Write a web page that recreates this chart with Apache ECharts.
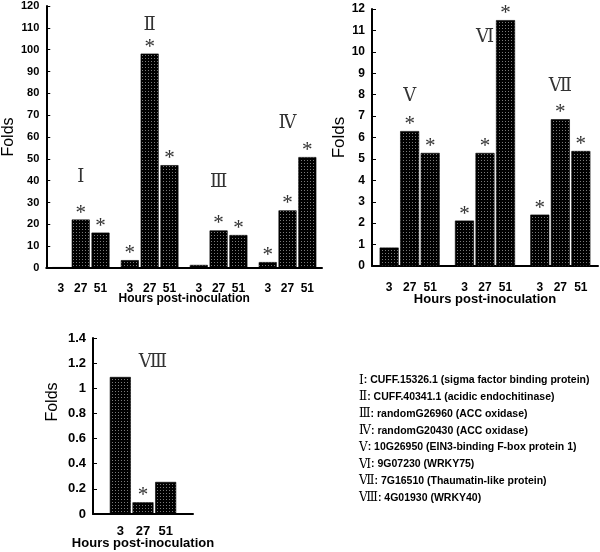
<!DOCTYPE html>
<html><head><meta charset="utf-8">
<script src="https://cdn.jsdelivr.net/npm/echarts@6/dist/echarts.min.js"></script>
<style>html,body{margin:0;padding:0;background:#fff}#c{width:600px;height:552px}</style>
</head><body><div id="c"></div>
<script>
// ---------- data ----------
const hours = ['3', '27', '51'];
const axisTitle = 'Hours post-inoculation';
const yName = 'Folds';

// top-left chart (groups I-IV)
const leftGroups = ['Ⅰ', 'Ⅱ', 'Ⅲ', 'Ⅳ'];
const left3h  = [0.4, 3.6, 1.4, 2.7];
const left27h = [22.2, 98.2, 17.2, 26.4];
const left51h = [16.2, 47.1, 15.1, 50.8];
const leftStar3h  = [0, 1, 0, 1];
const leftStar27h = [1, 1, 1, 1];
const leftStar51h = [1, 1, 1, 1];
const leftNumeralAt = [41.7, 111, 39.4, 66.4];   // y-value where the group numeral sits
const leftMax = 120, leftStep = 10;

// top-right chart (groups V-VII)
const rightGroups = ['Ⅴ', 'Ⅵ', 'Ⅶ'];
const right3h  = [0.86, 2.12, 2.4];
const right27h = [6.3, 5.28, 6.85];
const right51h = [5.28, 11.48, 5.37];
const rightStar3h  = [0, 1, 1];
const rightStar27h = [1, 1, 1];
const rightStar51h = [1, 1, 1];
const rightNumeralAt = [7.94, 10.7, 8.4];
const rightMax = 12, rightStep = 1;

// bottom chart (group VIII)
const bottomGroups = ['Ⅷ'];
const bottom3h  = [1.09];
const bottom27h = [0.093];
const bottom51h = [0.255];
const bottomStar3h  = [0];
const bottomStar27h = [1];
const bottomStar51h = [0];
const bottomNumeralAt = [1.21];
const bottomMax = 1.4, bottomStep = 0.2;

// legend
const legendNumerals = ['Ⅰ', 'Ⅱ', 'Ⅲ', 'Ⅳ', 'Ⅴ', 'Ⅵ', 'Ⅶ', 'Ⅷ'];
const legendGenes = [
  'CUFF.15326.1 (sigma factor binding protein)',
  'CUFF.40341.1 (acidic endochitinase)',
  'randomG26960 (ACC oxidase)',
  'randomG20430 (ACC oxidase)',
  '10G26950 (EIN3-binding F-box protein 1)',
  '9G07230 (WRKY75)',
  '7G16510 (Thaumatin-like protein)',
  '4G01930 (WRKY40)'
];

// ---------- styling ----------
const SANS = '"Liberation Sans", Arial, Helvetica, sans-serif';
const SERIF = '"Liberation Serif", "DejaVu Serif", "Times New Roman", serif';

const tile = document.createElement('canvas');
tile.width = 3; tile.height = 3;
const tctx = tile.getContext('2d');
tctx.fillStyle = '#000'; tctx.fillRect(0, 0, 3, 3);
tctx.fillStyle = '#7a7a7a'; tctx.fillRect(1, 1, 1, 1);
const dotted = { image: tile, repeat: 'repeat' };

function makeSeries(gi, groups, vals, stars, numeralAt, o) {
  const out = [];
  hours.forEach((h, k) => {
    const stack = 'g' + gi + 'h' + k;
    out.push({
      type: 'bar', name: h, xAxisIndex: gi, yAxisIndex: gi, stack: stack,
      barWidth: o.bw, barGap: o.gap, data: vals[k], silent: true,
      itemStyle: { color: dotted, borderColor: '#000', borderWidth: 0.6 },
      label: { show: true, position: 'bottom', distance: o.hd, formatter: h,
        fontWeight: 'bold', fontSize: o.hf, color: '#000', fontFamily: SANS }
    });
    out.push({
      type: 'bar', xAxisIndex: gi, yAxisIndex: gi, stack: stack, stackStrategy: 'all',
      barWidth: o.bw, barGap: o.gap, silent: true,
      data: stars[k].map(s => (s ? 0 : '-')),
      itemStyle: { color: 'rgba(0,0,0,0)' },
      label: { show: true, position: 'top', distance: 0, offset: [0, 4], formatter: '*',
        fontSize: 21, color: '#333', fontFamily: SERIF }
    });
  });
  out.push({
    type: 'scatter', xAxisIndex: gi, yAxisIndex: gi, symbolSize: 0, silent: true,
    data: numeralAt.map((y, i) => [i, y]),
    label: { show: true, position: 'inside', offset: o.numOff || [0, 0],
      formatter: p => groups[p.dataIndex],
      fontSize: 18, color: '#000', fontFamily: SERIF }
  });
  return out;
}

function xAx(gi, groups, gap, fs) {
  return {
    gridIndex: gi, type: 'category', data: groups,
    axisLine: { lineStyle: { color: '#000', width: 2 } },
    axisTick: { show: false }, axisLabel: { show: false },
    name: axisTitle, nameLocation: 'middle', nameGap: gap,
    nameTextStyle: { fontWeight: 'bold', fontSize: fs, color: '#000', fontFamily: SANS }
  };
}
function yAx(gi, max, step, fs, gap, nfs, pad) {
  return {
    gridIndex: gi, type: 'value', min: 0, max: max, interval: step,
    axisLine: { show: true, lineStyle: { color: '#000', width: 2 } },
    axisTick: { show: true, inside: true, length: 4, lineStyle: { color: '#000' } },
    splitLine: { show: false },
    axisLabel: { fontWeight: 'bold', fontSize: fs, color: '#000', margin: 7, fontFamily: SANS },
    name: yName, nameLocation: 'middle', nameRotate: 90, nameGap: gap,
    nameTextStyle: { fontSize: nfs, color: '#000', fontFamily: SANS, padding: pad || 0 }
  };
}

const legendRich = legendGenes.map((g, i) => '{n|' + legendNumerals[i] + '}: ' + g).join('\n');

const option = {
  animation: false,
  backgroundColor: '#fff',
  grid: [
    { left: 42, top: 6, width: 280, height: 262 },
    { left: 372, top: 9, width: 226, height: 257 },
    { left: 93, top: 338, width: 100, height: 176 }
  ],
  xAxis: [
    xAx(0, leftGroups, 25, 12),
    xAx(1, rightGroups, 27, 13),
    xAx(2, bottomGroups, 23, 13)
  ],
  yAxis: [
    yAx(0, leftMax, leftStep, 11, 29, 16),
    yAx(1, rightMax, rightStep, 12, 22, 17),
    yAx(2, bottomMax, bottomStep, 13, 32, 16, [0, 0, 0, 48])
  ],
  series: [].concat(
    makeSeries(0, leftGroups, [left3h, left27h, left51h], [leftStar3h, leftStar27h, leftStar51h], leftNumeralAt,
      { bw: 18, gap: '10%', hd: 15, hf: 12 }),
    makeSeries(1, rightGroups, [right3h, right27h, right51h], [rightStar3h, rightStar27h, rightStar51h], rightNumeralAt,
      { bw: 19, gap: '8%', hd: 16, hf: 12 }),
    makeSeries(2, bottomGroups, [bottom3h, bottom27h, bottom51h], [bottomStar3h, bottomStar27h, bottomStar51h], bottomNumeralAt,
      { bw: 21, gap: '8%', hd: 11, hf: 13, numOff: [10, 0] })
  ),
  graphic: [{
    type: 'text', left: 359, top: 372, silent: true,
    style: {
      text: legendRich, fill: '#000', fontWeight: 'bold', fontSize: 10.5, fontFamily: SANS,
      lineHeight: 16.8,
      rich: { n: { fontFamily: SERIF, fontSize: 12, fontWeight: 'normal', fill: '#000', lineHeight: 16.8 } }
    }
  }]
};

const chart = echarts.init(document.getElementById('c'), null, { renderer: 'canvas' });
chart.setOption(option);
</script>
</body></html>
